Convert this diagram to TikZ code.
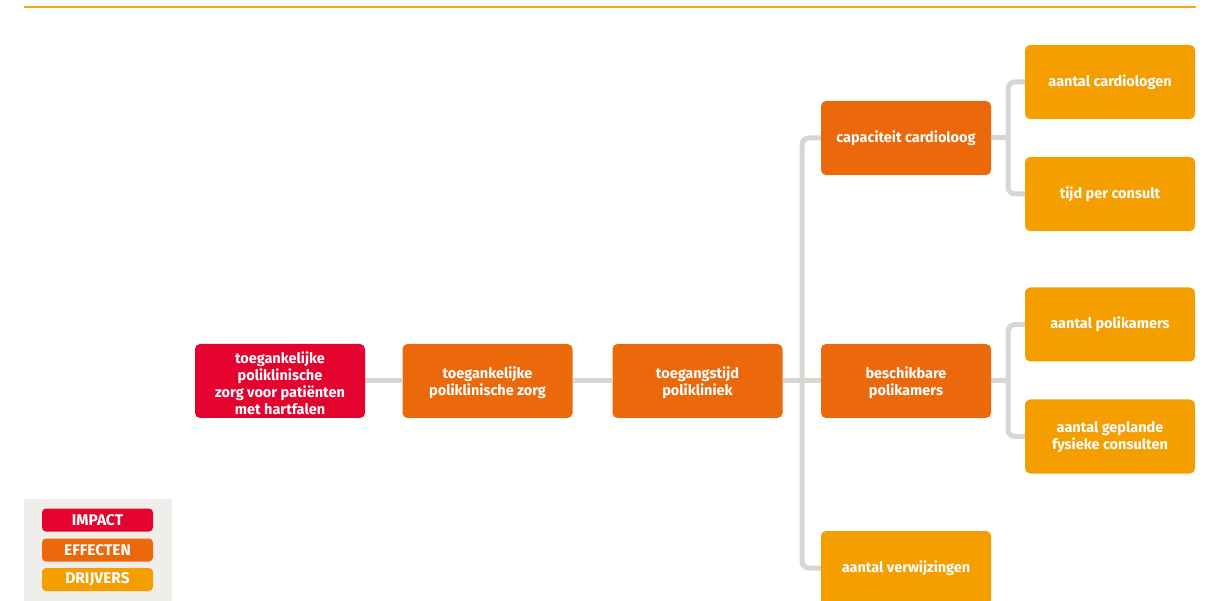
\documentclass[tikz,border=0pt]{standalone}
\usepackage{fontspec}
\setmainfont{Fira Sans}
\usetikzlibrary{backgrounds}
\definecolor{cimp}{HTML}{E4032E}
\definecolor{ceff}{HTML}{EB680B}
\definecolor{cdrv}{HTML}{F49E00}
\definecolor{cline}{HTML}{D9D6D1}
\definecolor{cleg}{HTML}{EFEEEA}
\definecolor{ctop}{HTML}{F5A623}
\newcommand{\mltext}[2]{\raisebox{0pt}[\dimexpr\height+#1\relax][\dimexpr\depth-#1\relax]{\begin{tabular}{@{}c@{}}#2\end{tabular}}}
\tikzset{
  box/.style={rounded corners=5pt, minimum width=170pt, minimum height=74pt, inner sep=1pt,
    text=white, align=center, font=\fontsize{14.5}{17.3}\selectfont\bfseries},
  impbox/.style={box, fill=cimp},
  effbox/.style={box, fill=ceff},
  drvbox/.style={box, fill=cdrv},
  pill/.style={rounded corners=4pt, minimum width=111pt, minimum height=23pt, inner sep=0pt,
    text=white, font=\fontsize{15.5}{17}\selectfont\bfseries},
  conn/.style={draw=cline, line width=5pt, rounded corners=7pt}
}
\begin{document}
\begin{tikzpicture}[x=1pt,y=-1pt]
\useasboundingbox (0,0) rectangle (1205,601);
\draw[ctop, line width=1.5pt] (24,7) -- (1196,7);
% legend
\fill[cleg] (24,499) rectangle (172,610);
\node[pill, fill=cimp] (limp) at (97.5,520) {IMPACT};
\node[pill, fill=ceff] (leff) at (97.5,550) {EFFECTEN};
\node[pill, fill=cdrv] (ldrv) at (97.5,579.5) {DRIJVERS};
% nodes
\node[impbox] (imp) at (280,381) {\mltext{4.5pt}{toegankelijke\\poliklinische\\zorg voor patiënten\\met hartfalen}};
\node[effbox] (e1) at (487.5,381) {\mltext{2.5pt}{toegankelijke\\poliklinische zorg}};
\node[effbox] (e2) at (697.5,381) {\mltext{2.5pt}{toegangstijd\\polikliniek}};
\node[effbox] (cap) at (906,138) {capaciteit cardioloog};
\node[effbox] (bes) at (906,381) {\mltext{2.5pt}{beschikbare\\polikamers}};
\node[drvbox] (ver) at (906,568) {aantal verwijzingen};
\node[drvbox] (card) at (1110,82) {\raisebox{2pt}{aantal cardiologen}};
\node[drvbox] (tijd) at (1110,194) {\raisebox{2pt}{tijd per consult}};
\node[drvbox] (pkam) at (1110,324.5) {\raisebox{2pt}{aantal polikamers}};
\node[drvbox] (gepl) at (1110,436.5) {\mltext{1pt}{aantal geplande\\fysieke consulten}};
\coordinate (tr) at (802,381);
\coordinate (b1) at (1008,138);
\coordinate (b2) at (1008,381);
\begin{scope}[on background layer]
\draw[conn] (imp.east) -- (e1.west);
\draw[conn] (e1.east) -- (e2.west);
\draw[conn] (e2.east) -- (bes.west);
\draw[conn] (cap.west) -| (tr) |- (ver.west);
\draw[conn] (cap.east) -- (b1);
\draw[conn] (card.west) -| (b1) |- (tijd.west);
\draw[conn] (bes.east) -- (b2);
\draw[conn] (pkam.west) -| (b2) |- (gepl.west);
\end{scope}
\end{tikzpicture}
\end{document}
